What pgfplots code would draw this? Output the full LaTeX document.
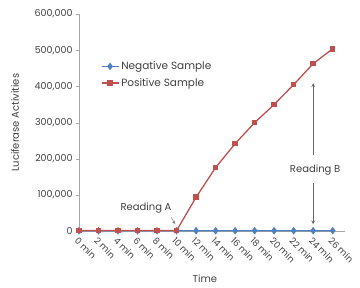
\documentclass[border=0pt]{standalone}
\usepackage{fontspec}
\setmainfont{Poppins}
\usepackage{pgfplots}
\pgfplotsset{compat=1.18}
\definecolor{negblue}{HTML}{4F81BD}
\definecolor{posred}{HTML}{C0504D}
\definecolor{axgray}{HTML}{A6A6A6}
\definecolor{txtgray}{HTML}{404040}
\begin{document}
\begin{tikzpicture}
\begin{axis}[
  scale only axis,
  width=266pt, height=217pt,
  xmin=0, xmax=27.3,
  ymin=0, ymax=600000,
  axis lines*=left,
  axis line style={axgray, line width=0.8pt},
  x axis line style={-}, y axis line style={-},
  xtick={0,2,...,26},
  xticklabels={0 min,2 min,4 min,6 min,8 min,10 min,12 min,14 min,16 min,18 min,20 min,22 min,24 min,26 min},
  xticklabel style={rotate=-45, anchor=north west, font=\fontsize{9}{10}\selectfont, text=txtgray, inner sep=1.5pt},
  ytick={0,100000,...,600000},
  scaled y ticks=false,
  yticklabel style={/pgf/number format/fixed, /pgf/number format/1000 sep={,}, font=\fontsize{9.5}{10}\selectfont, text=txtgray},
  /pgf/number format/assume math mode=true,
  tick style={axgray},
  major tick length=3pt,
  tick align=outside,
  xtick style={draw=none},
  ylabel={Luciferase Activities},
  ylabel style={font=\fontsize{10}{11}\selectfont, text=txtgray, at={(axis description cs:-0.24,0.5)}, anchor=center},
  xlabel={Time},
  xlabel style={font=\fontsize{10}{11}\selectfont, text=txtgray, at={(axis cs:12.9,0)}, anchor=center, yshift=-47pt},
  legend style={at={(rel axis cs:0.07,0.80)}, anchor=north west, draw=none, fill=none, font=\fontsize{10.5}{11}\selectfont, text=txtgray, row sep=3pt},
  legend cell align=left,
  clip=false,
]
\addplot[negblue, line width=1.3pt, mark=diamond*, mark size=2.8pt] coordinates {
(0,1500) (2,1500) (4,1500) (6,1500) (8,1500) (10,1500) (12,1500) (14,1500) (16,1500) (18,1500) (20,1500) (22,1600) (24,1600) (26,1700)};
\addlegendentry{Negative Sample}
\addplot[posred, line width=1.3pt, mark=square*, mark size=2.1pt] coordinates {
(0,2000) (2,2000) (4,2000) (6,2000) (8,2000) (10,2000) (12,94000) (14,176000) (16,242000) (18,300000) (20,350000) (22,405000) (24,463000) (26,504000)};
\addlegendentry{Positive Sample}
\node[font=\fontsize{10}{11}\selectfont, text=txtgray] at (axis cs:6.87,63600) {Reading A};
\draw[-stealth, gray, line width=0.5pt] (axis cs:9.44,38700) -- (axis cs:9.85,20000);
\node[font=\fontsize{10}{11}\selectfont, text=txtgray] at (axis cs:24.2,168700) {Reading B};
\draw[-stealth, gray!80!black, line width=0.7pt] (axis cs:24.0,210000) -- (axis cs:24.0,409000);
\draw[-stealth, gray!80!black, line width=0.7pt] (axis cs:24.0,132700) -- (axis cs:24.0,19400);
\coordinate (bl) at (axis cs:-8.1,-154800);
\coordinate (tr) at (axis cs:28.8,638700);
\end{axis}
\pgfresetboundingbox
\path[use as bounding box] (bl) rectangle (tr);
\end{tikzpicture}
\end{document}
